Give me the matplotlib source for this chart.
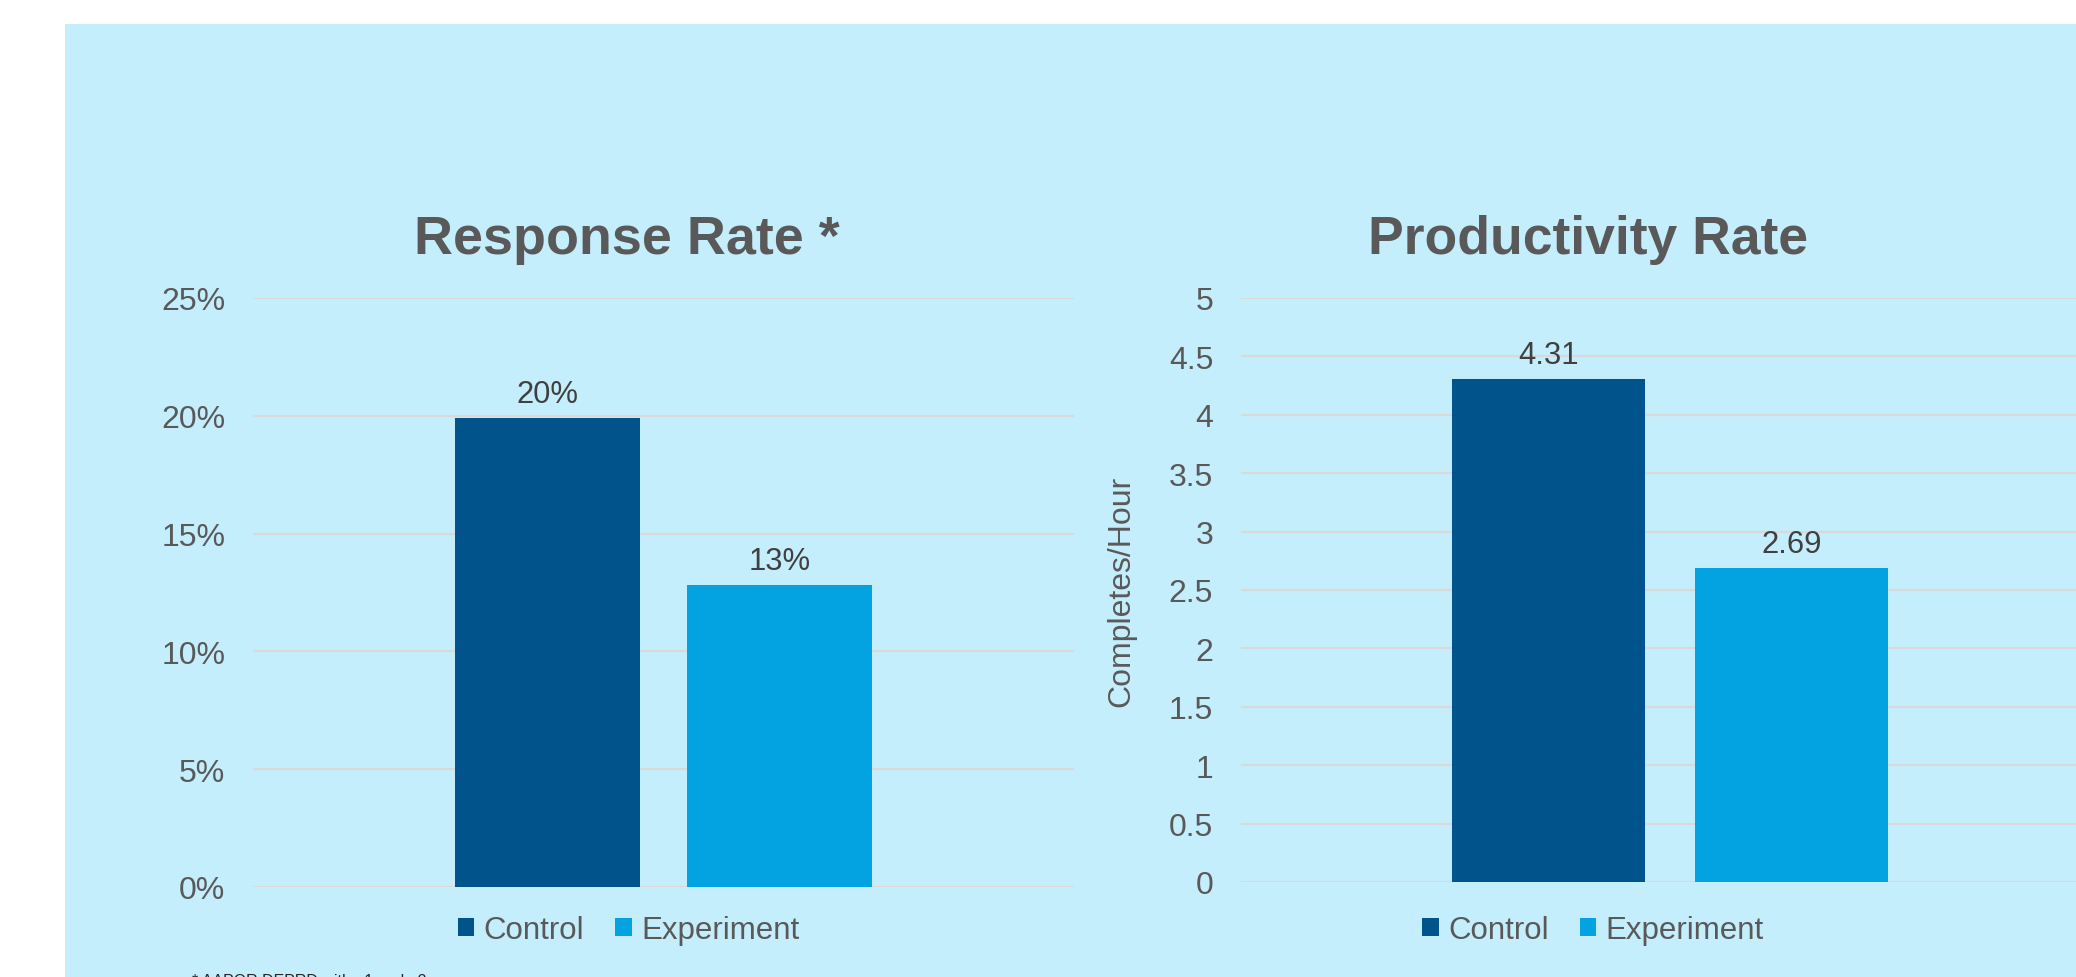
import matplotlib
matplotlib.use("Agg")
import matplotlib.pyplot as plt
from matplotlib.patches import Rectangle, Patch
from matplotlib.ticker import FuncFormatter, MultipleLocator

plt.rcParams['font.family'] = ['Liberation Sans', 'DejaVu Sans']

# ---- data ----
series = ["Control", "Experiment"]
response_rate = [0.199, 0.128]
productivity_rate = [4.31, 2.69]
titles = ["Response Rate *", "Productivity Rate"]
ylabel_right = "Completes/Hour"
footnote = "* AAPOR DEPRD with e1 and e2"

colors = ["#01548B", "#03A3E1"]
bg = "#C5EEFD"
grid_c = "#D9D9D9"
txt_c = "#595959"
lab_c = "#404040"

W, H = 2076, 978
fig = plt.figure(figsize=(W / 100, H / 100), dpi=100)
fig.patch.set_facecolor("white")
fig.patches.append(Rectangle((65 / W, 0), 1 - 65 / W, 1 - 25 / H,
                             transform=fig.transFigure, facecolor=bg,
                             edgecolor="none", zorder=-10))

def px_axes(x0, y0, x1, y1):
    return fig.add_axes([x0 / W, 1 - y1 / H, (x1 - x0) / W, (y1 - y0) / H])

ax1 = px_axes(253, 299, 1074, 888)
ax2 = px_axes(1241, 299, 2099, 883)

bw = 0.225
offs = [-0.1415, 0.1415]

def style(ax, ymax, step, fmt):
    ax.set_facecolor("none")
    ax.set_xlim(-0.5, 0.5)
    ax.set_ylim(0, ymax)
    ax.yaxis.set_major_locator(MultipleLocator(step))
    ax.yaxis.set_major_formatter(FuncFormatter(fmt))
    ax.grid(axis="y", color=grid_c, linewidth=1.6, zorder=0)
    ax.set_axisbelow(True)
    for s in ax.spines.values():
        s.set_visible(False)
    ax.set_xticks([])
    ax.tick_params(axis="y", length=0, pad=20, labelsize=23, labelcolor=txt_c)

style(ax1, 0.25, 0.05, lambda v, p: f"{v*100:.0f}%")
style(ax2, 5, 0.5, lambda v, p: f"{v:g}")

for ax, vals, lf in [(ax1, response_rate, lambda v: f"{v*100:.0f}%"),
                     (ax2, productivity_rate, lambda v: f"{v:.2f}")]:
    for i, (name, v) in enumerate(zip(series, vals)):
        ax.bar(offs[i], v, width=bw, color=colors[i], zorder=3, label=name)
        ax.annotate(lf(v), (offs[i], v), xytext=(0, 11.5), textcoords="offset points",
                    ha="center", va="baseline", fontsize=22.3, color=lab_c)

leg_y = 1 - 931 / H
for ax, cx in [(ax1, 628.5 / W), (ax2, 1593 / W)]:
    handles = [Patch(facecolor=c, edgecolor="none", label=n) for c, n in zip(colors, series)]
    leg = ax.legend(handles=handles, loc="center", bbox_to_anchor=(cx, leg_y),
                    bbox_transform=fig.transFigure, ncol=2, frameon=False,
                    fontsize=22.5, handlelength=0.52, handleheight=0.52,
                    handletextpad=0.3, columnspacing=1.0, borderpad=0, borderaxespad=0)
    for t in leg.get_texts():
        t.set_color(txt_c)

fig.text(627 / W, 1 - 254 / H, titles[0], ha="center", va="baseline",
         fontsize=38.8, fontweight="bold", color=txt_c)
fig.text(1588 / W, 1 - 254 / H, titles[1], ha="center", va="baseline",
         fontsize=38.5, fontweight="bold", color=txt_c)
fig.text(1121 / W, 1 - 591 / H, ylabel_right, rotation=90, ha="center", va="center",
         fontsize=23, color=txt_c)
fig.text(192 / W, 1 - 974 / H, footnote, ha="left", va="top", fontsize=11.5, color="#262626")

fig.savefig("out.png", dpi=100, facecolor=fig.get_facecolor())
